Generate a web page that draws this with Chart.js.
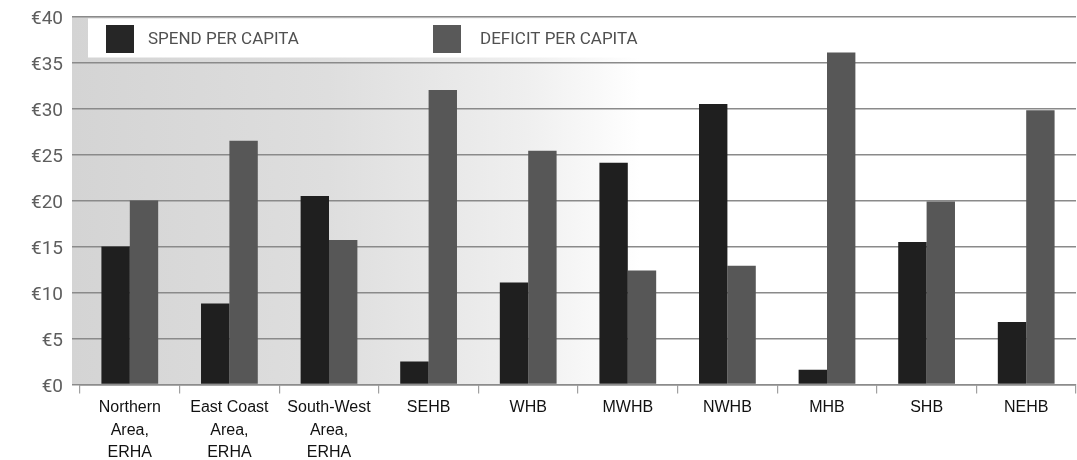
<!DOCTYPE html>
<html>
<head>
<meta charset="utf-8">
<title>Spend and deficit per capita</title>
<script src="https://cdn.jsdelivr.net/npm/chart.js@4/dist/chart.umd.min.js"></script>
<style>
    html, body { margin: 0; padding: 0; background: #fff; }
    #wrap { width: 1077px; height: 460px; position: relative; }
</style>
</head>
<body>
<div id="wrap"><canvas id="per-capita"></canvas></div>
<script>
// values (euro per capita)
const categories = [
    ['Northern', 'Area,', 'ERHA'],
    ['East Coast', 'Area,', 'ERHA'],
    ['South-West', 'Area,', 'ERHA'],
    'SEHB', 'WHB', 'MWHB', 'NWHB', 'MHB', 'SHB', 'NEHB'
];
const spendPerCapita   = [15.0, 8.8, 20.5, 2.5, 11.1, 24.1, 30.5, 1.6, 15.5, 6.8];
const deficitPerCapita = [20.0, 26.5, 15.7, 32.0, 25.4, 12.4, 12.9, 36.1, 19.9, 29.8];
const seriesLabels = ['SPEND PER CAPITA', 'DEFICIT PER CAPITA'];
const yMin = 0, yMax = 40, yStep = 5;

const canvas = document.getElementById('per-capita');

// grey paper shade on the left of the plot, fading out to white
const paperShade = {
    id: 'paperShade',
    beforeDraw(chart) {
        const {ctx, chartArea: a} = chart;
        const g = ctx.createLinearGradient(a.left - 8, 0, 640, 0);
        g.addColorStop(0, '#d4d4d4');
        g.addColorStop(0.45, '#dedede');
        g.addColorStop(0.8, '#efefef');
        g.addColorStop(1, '#ffffff');
        ctx.save();
        ctx.fillStyle = g;
        ctx.fillRect(a.left - 8, a.top, a.right - a.left + 8, a.bottom - a.top);
        ctx.restore();
    }
};

// legend sits inside the plot on a white strip
const boxLegend = {
    id: 'boxLegend',
    afterDraw(chart) {
        const {ctx, chartArea: a} = chart;
        const items = [{x: 106, w: 28, tx: 148}, {x: 433, w: 28, tx: 480}];
        ctx.save();
        ctx.fillStyle = '#ffffff';
        ctx.fillRect(88, a.top + 2, 620, 39);
        ctx.font = '17px Roboto';
        ctx.textBaseline = 'middle';
        chart.data.datasets.forEach((ds, i) => {
            const it = items[i];
            ctx.fillStyle = ds.legendColor;
            ctx.fillRect(it.x, 25, it.w, 28);
            ctx.fillStyle = '#505050';
            ctx.fillText(ds.label, it.tx, 40);
        });
        ctx.restore();
    }
};

new Chart(canvas, {
    type: 'bar',
    data: {
        labels: categories,
        datasets: [{
            label: seriesLabels[0],
            data: spendPerCapita,
            backgroundColor: '#1f1f1f',
            legendColor: '#262626',
            categoryPercentage: 0.57,
            barPercentage: 1
        }, {
            label: seriesLabels[1],
            data: deficitPerCapita,
            backgroundColor: '#575757',
            legendColor: '#595959',
            categoryPercentage: 0.57,
            barPercentage: 1
        }]
    },
    options: {
        responsive: true,
        maintainAspectRatio: false,
        animation: false,
        layout: {padding: {top: 16.5, left: 0, right: 1, bottom: 0}},
        plugins: {
            legend: {display: false},
            tooltip: {enabled: false}
        },
        scales: {
            x: {
                grid: {
                    drawOnChartArea: false,
                    drawTicks: true,
                    tickLength: 9,
                    color: '#a0a0a0',
                    lineWidth: 1.2
                },
                border: {display: true, color: '#8c8c8c', width: 1.5},
                ticks: {
                    color: '#111',
                    font: {family: '"Liberation Sans", Arial', size: 16, lineHeight: 1.41},
                    padding: 3,
                    maxRotation: 0,
                    autoSkip: false
                },
                afterFit(scale) {
                    scale.height = 75.5;
                    scale.paddingLeft = 0;
                    scale.paddingRight = 0;
                }
            },
            y: {
                min: yMin,
                max: yMax,
                grid: {
                    color: '#8a8a8a',
                    lineWidth: 1.5,
                    drawTicks: true,
                    tickLength: 8
                },
                border: {display: false},
                ticks: {
                    stepSize: yStep,
                    color: '#5e5e5e',
                    font: {family: 'Roboto', size: 19},
                    padding: 9,
                    labelOffset: 3,
                    callback: v => '€' + v
                },
                afterFit(scale) {
                    scale.width = 80;
                    scale.paddingTop = 0;
                    scale.paddingBottom = 0;
                }
            }
        }
    },
    plugins: [paperShade, boxLegend]
});
</script>
</body>
</html>
